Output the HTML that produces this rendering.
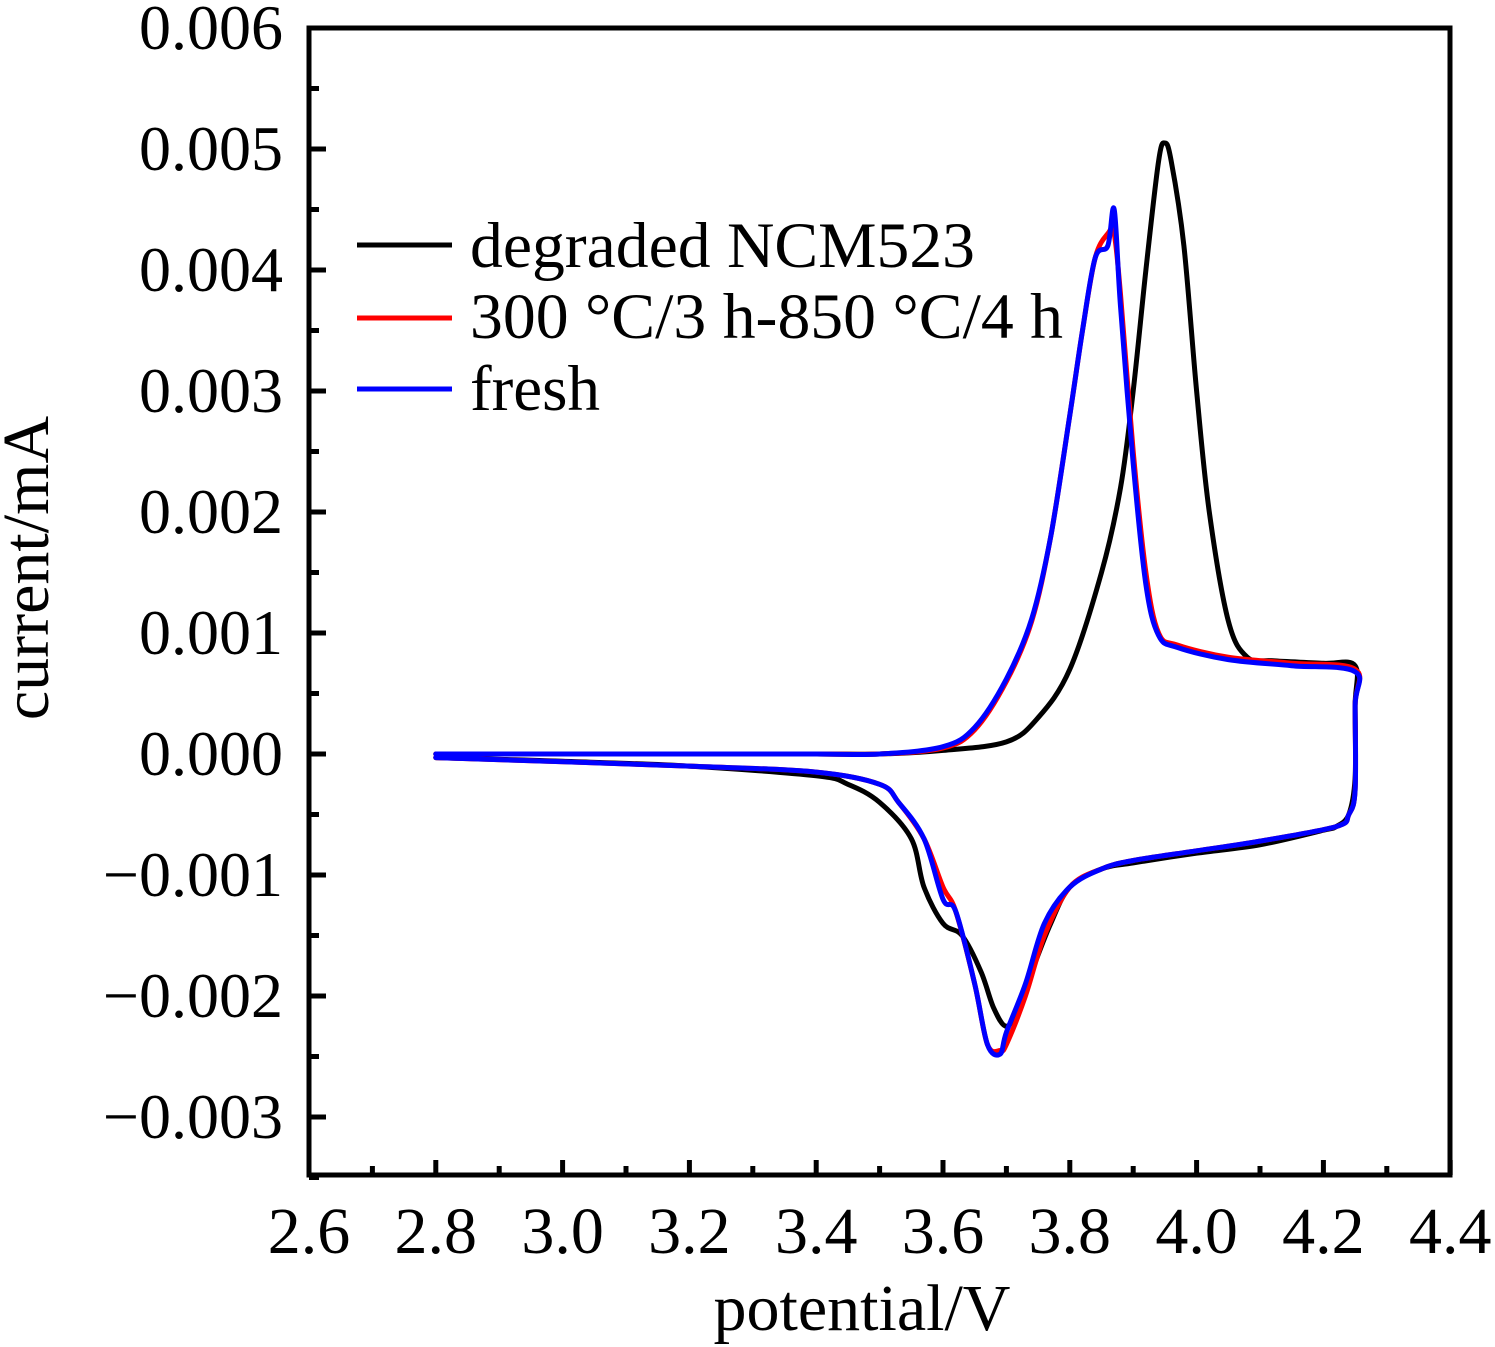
<!DOCTYPE html>
<html><head><meta charset="utf-8"><style>
body{margin:0;background:#fff;}
svg{display:block;font-family:"Liberation Serif",serif;}
</style></head><body>
<svg id="chart" width="1495" height="1347" viewBox="0 0 1495 1347" xmlns="http://www.w3.org/2000/svg">
<g id="ticks"></g>
<g id="series"></g>
<rect x="309" y="28" width="1141" height="1147" fill="none" stroke="#000" stroke-width="5"/>
<text x="862" y="1330" font-size="66" text-anchor="middle">potential/V</text>
<text transform="translate(48,568) rotate(-90)" font-size="66" text-anchor="middle">current/mA</text>
<g font-size="65">
<line x1="357" y1="245" x2="452" y2="245" stroke="#000" stroke-width="5"/>
<text x="470" y="267" textLength="505" lengthAdjust="spacingAndGlyphs">degraded NCM523</text>
<line x1="357" y1="318" x2="452" y2="318" stroke="#f00" stroke-width="5"/>
<text x="470" y="338" textLength="593" lengthAdjust="spacingAndGlyphs">300 °C/3 h-850 °C/4 h</text>
<line x1="357" y1="389" x2="452" y2="389" stroke="#00f" stroke-width="5"/>
<text x="470" y="410" textLength="130" lengthAdjust="spacingAndGlyphs">fresh</text>
</g>
</svg>
<script>
const xTicks=[2.6,2.8,3.0,3.2,3.4,3.6,3.8,4.0,4.2,4.4];
const xTickLabels=["2.6","2.8","3.0","3.2","3.4","3.6","3.8","4.0","4.2","4.4"];
const yTicks=[0.006,0.005,0.004,0.003,0.002,0.001,0,-0.001,-0.002,-0.003];
const yTickLabels=["0.006","0.005","0.004","0.003","0.002","0.001","0.000","\u22120.001","\u22120.002","\u22120.003"];
const degradedX=[2.8,3.0,3.2,3.4,3.5,3.6,3.7,3.75,3.8,3.85,3.88,3.9,3.92,3.94,3.95,3.96,3.98,4.0,4.02,4.05,4.08,4.12,4.2,4.25,4.25,4.25,4.24,4.22,4.2,4.1,4.0,3.9,3.85,3.8,3.77,3.74,3.72,3.7,3.68,3.66,3.63,3.6,3.57,3.55,3.5,3.45,3.4,3.2,3.0,2.8];
const degradedY=[0,0,0,0,0,0.00003,0.0001,0.0003,0.0007,0.0015,0.0022,0.003,0.004,0.0049,0.00505,0.0049,0.0042,0.003,0.002,0.0011,0.0008,0.00077,0.00075,0.00073,0.0004,-0.0002,-0.0005,-0.0006,-0.00063,-0.00075,-0.00082,-0.0009,-0.00095,-0.0011,-0.0014,-0.0018,-0.0021,-0.00225,-0.0021,-0.0018,-0.0015,-0.0014,-0.0011,-0.0007,-0.0004,-0.00025,-0.00018,-0.0001,-0.00006,-0.00003];
const regenX=[2.8,3.0,3.2,3.4,3.5,3.6,3.65,3.7,3.74,3.77,3.8,3.82,3.84,3.86,3.87,3.88,3.9,3.92,3.94,3.97,4.05,4.15,4.25,4.25,4.25,4.24,4.22,4.1,4.0,3.9,3.85,3.8,3.76,3.73,3.7,3.69,3.67,3.65,3.62,3.6,3.57,3.53,3.5,3.4,3.2,2.8];
const regenY=[0,0,0,0,0,0.00005,0.0002,0.0006,0.0011,0.0018,0.0028,0.0035,0.0041,0.0043,0.0043,0.0038,0.0025,0.0015,0.001,0.0009,0.0008,0.00075,0.0007,0.0004,-0.0003,-0.0005,-0.0006,-0.00072,-0.0008,-0.00088,-0.00095,-0.0011,-0.0015,-0.002,-0.0024,-0.00245,-0.0024,-0.0019,-0.0013,-0.0011,-0.0007,-0.0004,-0.00025,-0.00015,-0.0001,-0.00003];
const freshX=[2.8,3.0,3.2,3.4,3.5,3.6,3.65,3.7,3.74,3.77,3.8,3.82,3.84,3.86,3.87,3.88,3.9,3.92,3.94,3.97,4.05,4.15,4.25,4.25,4.25,4.24,4.22,4.1,4.0,3.9,3.85,3.8,3.76,3.73,3.7,3.69,3.67,3.65,3.62,3.6,3.57,3.53,3.5,3.4,3.2,2.8];
const freshY=[0,0,0,0,0,0.00006,0.00022,0.00062,0.00112,0.0018,0.0028,0.0035,0.0041,0.0042,0.0045,0.0037,0.0024,0.0014,0.00098,0.00088,0.00078,0.00073,0.00068,0.0004,-0.0003,-0.0005,-0.0006,-0.00072,-0.0008,-0.00088,-0.00095,-0.0011,-0.0014,-0.0019,-0.0023,-0.00248,-0.0024,-0.0019,-0.0013,-0.0012,-0.0007,-0.0004,-0.00025,-0.00015,-0.0001,-0.00003];

const NS="http://www.w3.org/2000/svg";
const X=v=>309+(v-2.6)*634;
const Y=v=>754-v*121000;
const tg=document.getElementById('ticks');
function mk(tag,attrs,parent){const e=document.createElementNS(NS,tag);for(const k in attrs)e.setAttribute(k,attrs[k]);parent.appendChild(e);return e;}
xTicks.forEach((t,i)=>{
  const l=mk('line',{x1:X(t),x2:X(t),y1:1175,y2:1160,stroke:'#000','stroke-width':5},tg);
  
  
  if(i<xTicks.length-1){const m=mk('line',{x1:X(t+0.1),x2:X(t+0.1),y1:1175,y2:1166,stroke:'#000','stroke-width':5},tg);
  
  }
  const tx=mk('text',{x:X(t),y:1253,'font-size':66,'text-anchor':'middle'},tg);
  
  
  tx.textContent=xTickLabels[i];
});
yTicks.forEach((t,i)=>{
  const l=mk('line',{x1:309,x2:326,y1:Y(t),y2:Y(t),stroke:'#000','stroke-width':5},tg);
  
  
  const m=mk('line',{x1:309,x2:319,y1:Y(t-0.0005),y2:Y(t-0.0005),stroke:'#000','stroke-width':5},tg);
  
  
  const tx=mk('text',{x:283,y:Y(t)+21,'font-size':64,'text-anchor':'end'},tg);
  
  
  tx.textContent=yTickLabels[i];
});
function smooth(pts){
  let d='M'+pts[0][0].toFixed(1)+','+pts[0][1].toFixed(1);
  for(let i=0;i<pts.length-1;i++){
    const p0=pts[Math.max(0,i-1)],p1=pts[i],p2=pts[i+1],p3=pts[Math.min(pts.length-1,i+2)];
    const k=1/6;
    const c1=[p1[0]+(p2[0]-p0[0])*k,p1[1]+(p2[1]-p0[1])*k];
    const c2=[p2[0]-(p3[0]-p1[0])*k,p2[1]-(p3[1]-p1[1])*k];
    d+='C'+c1.map(v=>v.toFixed(1)).join(',')+' '+c2.map(v=>v.toFixed(1)).join(',')+' '+p2[0].toFixed(1)+','+p2[1].toFixed(1);
  }
  return d;
}
const sg=document.getElementById('series');
[[degradedX,degradedY,'#000','degraded-curve'],[regenX,regenY,'#f00','regenerated-curve'],[freshX,freshY,'#00f','fresh-curve']].forEach(s=>{
  const pts=s[0].map((x,i)=>[X(x),Y(s[1][i])]);
  const p=mk('path',{d:smooth(pts),fill:'none',stroke:s[2],'stroke-width':5,'stroke-linejoin':'round','stroke-linecap':'round'},sg);
  
  
});
</script>
</body></html>
